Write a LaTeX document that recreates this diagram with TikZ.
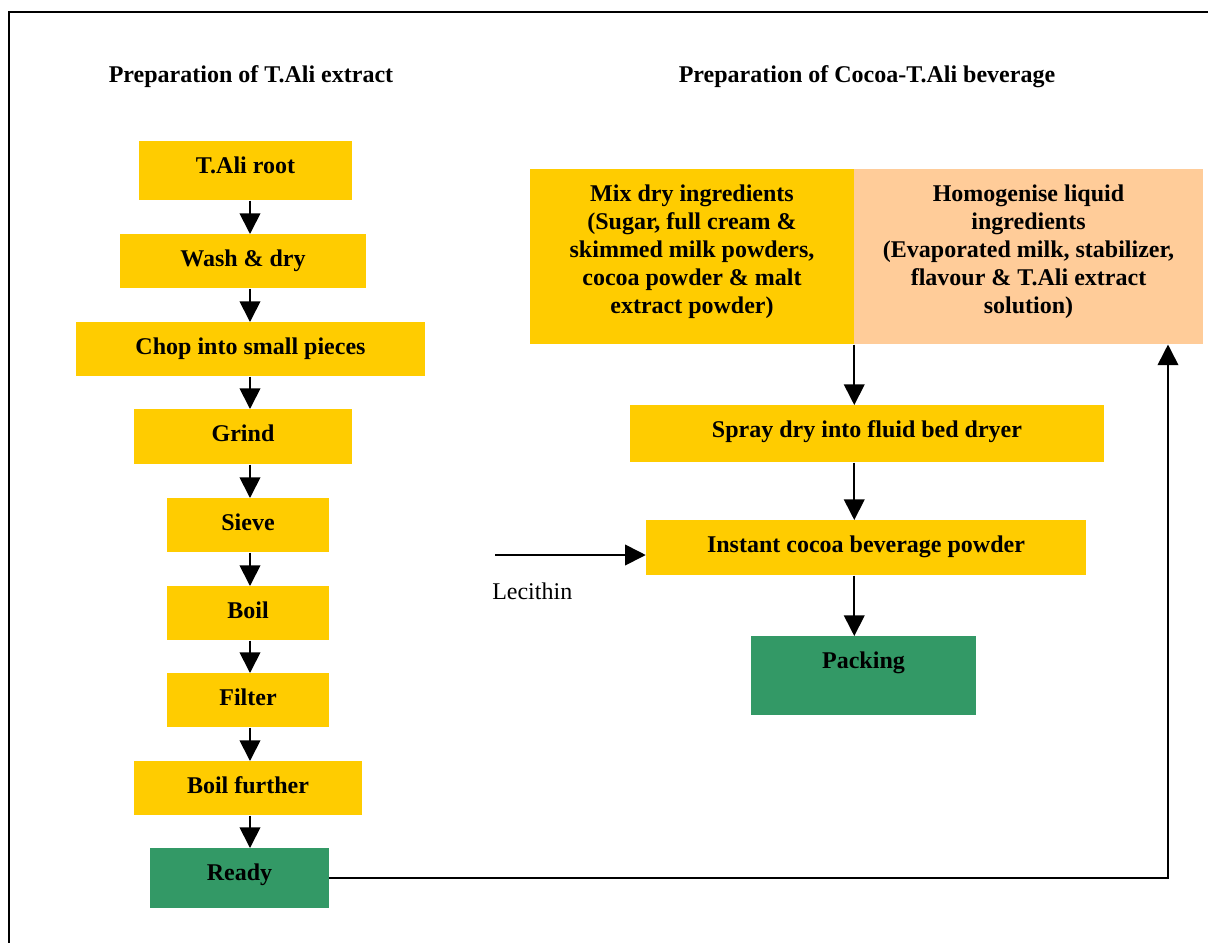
\documentclass[tikz,border=0pt]{standalone}
\usepackage{fontspec}
\setmainfont{Liberation Serif}
\usetikzlibrary{arrows.meta, positioning}
\definecolor{stepyellow}{HTML}{FFCC00}
\definecolor{steppeach}{HTML}{FFCC99}
\definecolor{stepgreen}{HTML}{339966}
\tikzstyle{stage}=[rectangle, fill=stepyellow, anchor=north, inner sep=0pt, text height=24pt, align=flush center, font=\fontsize{18}{21}\selectfont\bfseries]
\tikzstyle{finish}=[stage, fill=stepgreen]
\tikzstyle{heading}=[anchor=base, inner sep=0pt, font=\fontsize{18}{21}\selectfont\bfseries]
\tikzstyle{flow}=[-{Triangle[length=15.5pt, width=15.5pt]}, line width=1.3pt]

\begin{document}
\begin{tikzpicture}[x=0.75pt, y=-0.75pt]
      \useasboundingbox (0,0) rectangle (1208,943);
      \draw[line width=1.1pt] (9,943) |- (1208,12);

      % headings
      \node[heading] (lefthead)  at (251,82) {Preparation of T.Ali extract};
      \node[heading] (righthead) at (867,82) {Preparation of Cocoa-T.Ali beverage};

      % T.Ali extract
      \node[stage, minimum width=159.75pt, text depth=20.25pt] (root)    at (245.5,141) {T.Ali root};
      \node[stage, minimum width=184.5pt,  text depth=16.5pt]  (wash)    at (243,234)   {Wash \& dry};
      \node[stage, minimum width=261.75pt, text depth=16.5pt]  (chop)    at (250.5,322) {Chop into small pieces};
      \node[stage, minimum width=163.5pt,  text depth=17.25pt] (grind)   at (243,409)   {Grind};
      \node[stage, minimum width=121.5pt,  text depth=16.5pt]  (sieve)   at (248,498)   {Sieve};
      \node[stage, minimum width=121.5pt,  text depth=16.5pt]  (boil)    at (248,586)   {Boil};
      \node[stage, minimum width=121.5pt,  text depth=16.5pt]  (filter)  at (248,673)   {Filter};
      \node[stage, minimum width=171pt,    text depth=16.5pt]  (further) at (248,761)   {Boil further};
      \node[finish, minimum width=134.25pt, text depth=21pt]   (ready)   at (239.5,848) {Ready};

      % Cocoa-T.Ali beverage
      \node[stage, minimum width=243pt, text width=236pt, text depth=107.25pt] (mix) at (692,169)
            {Mix dry ingredients\\(Sugar, full cream \&\\skimmed milk powders,\\cocoa powder \& malt\\extract powder)};
      \node[stage, fill=steppeach, minimum width=261.75pt, text width=254pt, text depth=107.25pt] (homog) at (1028.5,169)
            {Homogenise liquid\\ingredients\\(Evaporated milk, stabilizer,\\flavour \& T.Ali extract\\solution)};
      \node[stage, minimum width=355.5pt, text depth=18.75pt]  (spray)   at (867,405)   {Spray dry into fluid bed dryer};
      \node[stage, minimum width=330pt,   text depth=17.25pt]  (instant) at (866,520)   {Instant cocoa beverage powder};
      \node[finish, minimum width=168.75pt, text depth=35.25pt] (packing) at (863.5,636) {Packing};

      \node[anchor=base west, inner sep=0pt, font=\fontsize{18}{21}\selectfont] (lecithin) at (492,599) {Lecithin};

      \coordinate (axis)  at (250,0);
      \coordinate (lec)   at (495,555);
      \coordinate (riser) at (1168,0);

      \draw[flow] (root.south -| axis)    -- (wash.north -| axis);
      \draw[flow] (wash.south -| axis)    -- (chop.north -| axis);
      \draw[flow] (chop.south -| axis)    -- (grind.north -| axis);
      \draw[flow] (grind.south -| axis)   -- (sieve.north -| axis);
      \draw[flow] (sieve.south -| axis)   -- (boil.north -| axis);
      \draw[flow] (boil.south -| axis)    -- (filter.north -| axis);
      \draw[flow] (filter.south -| axis)  -- (further.north -| axis);
      \draw[flow] (further.south -| axis) -- (ready.north -| axis);

      \draw[flow] (mix.south east) -- (mix.south east |- spray.north);
      \draw[flow] (spray.south -| mix.south east)   -- (instant.north -| mix.south east);
      \draw[flow] (instant.south -| mix.south east) -- (packing.north -| mix.south east);
      \draw[flow] (lec) -- (lec -| instant.west);
      \draw[flow] (ready.east) -| (riser |- homog.south);
\end{tikzpicture}
\end{document}
